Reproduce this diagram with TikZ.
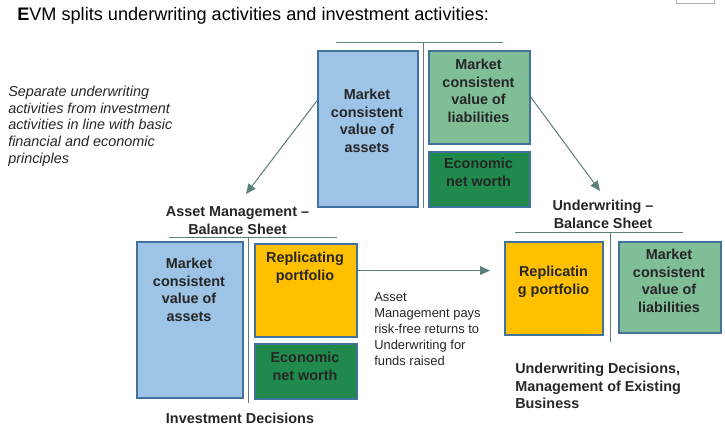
\documentclass[tikz,border=0pt]{standalone}
\usepackage{fontspec}
\setmainfont{Liberation Sans}
\usetikzlibrary{arrows.meta}

\definecolor{boxline}{HTML}{41719C}
\definecolor{assetblue}{HTML}{9DC3E6}
\definecolor{liabgreen}{HTML}{80BE98}
\definecolor{worthgreen}{HTML}{1F8A4B}
\definecolor{repyellow}{HTML}{FFC000}
\definecolor{arrgray}{HTML}{5B7F7A}
\definecolor{txtgray}{HTML}{262626}

\begin{document}
\begin{tikzpicture}[x=0.75pt,y=-0.75pt,
  bal/.style={draw=boxline,line width=1.5pt,inner sep=0pt,anchor=north west},
  boxtxt/.style={anchor=north,inner sep=0pt,align=center,text=txtgray,
    font=\fontsize{10.8}{13.4}\selectfont\bfseries},
  tline/.style={draw=arrgray,line width=0.75pt},
  arr/.style={draw=arrgray,line width=0.75pt,-{Triangle[length=7.5pt,width=6.5pt]}}]
\useasboundingbox (0,0) rectangle (725,432);

% Title
\node[anchor=base west,inner sep=0pt,text=black,font=\fontsize{13.6}{16}\selectfont]
  (title) at (17,20.5) {\textbf{E}VM splits underwriting activities and investment activities:};
\draw[gray!60,line width=0.6pt] (676,0) -- (676,3) -- (714,3) -- (714,0);

% Side note
\node[anchor=north west,inner sep=0pt,align=left,text=txtgray,
  font=\fontsize{10.8}{12.6}\selectfont\itshape] (note) at (8,85.5)
  {Separate underwriting\\activities from investment\\activities in line with basic\\financial and economic\\principles};

% Economic balance sheet
\draw[tline] (336,42) -- (503,42);
\draw[tline] (423,42) -- (423,208);
\node[bal,fill=assetblue,minimum width=75pt,minimum height=117pt] (tAssets) at (317,50) {};
\node[bal,fill=liabgreen,minimum width=75.75pt,minimum height=69.75pt] (tLiab) at (428,50) {};
\node[bal,fill=worthgreen,minimum width=75.75pt,minimum height=41.25pt] (tWorth) at (428,151) {};
\node[boxtxt] (tAssetsTxt) at (367,88.5) {Market\\consistent\\value of\\assets};
\node[boxtxt] (tLiabTxt) at (478.5,58.5) {Market\\consistent\\value of\\liabilities};
\node[boxtxt] (tWorthTxt) at (478.5,157.5) {Economic\\net worth};

% Asset management balance sheet
\node[boxtxt] (amHead) at (237.5,206.5) {Asset Management --\\Balance Sheet};
\draw[tline] (169,237) -- (337,237);
\draw[tline] (248,237) -- (248,403);
\node[bal,fill=assetblue,minimum width=79.5pt,minimum height=117pt] (amAssets) at (136,241) {};
\node[bal,fill=repyellow,minimum width=76.5pt,minimum height=69.75pt] (amRepl) at (254,243) {};
\node[bal,fill=worthgreen,minimum width=76.5pt,minimum height=41.25pt] (amWorth) at (254,343) {};
\node[boxtxt] (amAssetsTxt) at (189,257.5) {Market\\consistent\\value of\\assets};
\node[boxtxt] (amReplTxt) at (305,251.5) {Replicating\\portfolio};
\node[boxtxt] (amWorthTxt) at (305,351.5) {Economic\\net worth};
\node[boxtxt] (amFoot) at (240,412.5) {Investment Decisions};

% Underwriting balance sheet
\node[boxtxt] (uwHead) at (603,199.5) {Underwriting --\\Balance Sheet};
\draw[tline] (515,232) -- (683,232);
\draw[tline] (610,232) -- (610,342);
\node[bal,fill=repyellow,minimum width=73.5pt,minimum height=69.75pt] (uwRepl) at (504,241) {};
\node[bal,fill=liabgreen,minimum width=76.5pt,minimum height=68.25pt] (uwLiab) at (618,241) {};
\node[boxtxt] (uwReplTxt) at (553.5,265.5) {Replicatin\\g portfolio};
\node[boxtxt] (uwLiabTxt) at (669,248.5) {Market\\consistent\\value of\\liabilities};
\node[boxtxt,anchor=north west,align=left] (uwFoot) at (515,362.5)
  {Underwriting Decisions,\\Management of Existing\\Business};

% Flows
\coordinate (amTip) at (246,194);
\coordinate (uwTip) at (600,191);
\draw[arr] (tAssets.151) -- (amTip);
\draw[arr] (tLiab.east) -- (uwTip);
\draw[arr,shorten >=10.5pt] (amRepl.21) -- (amRepl.21 -| uwRepl.west);
\node[anchor=north west,inner sep=0pt,align=left,text=txtgray,
  font=\fontsize{9.7}{11.9}\selectfont] (payTxt) at (374,292.5)
  {Asset\\Management pays\\risk-free returns to\\Underwriting for\\funds raised};
\end{tikzpicture}
\end{document}
